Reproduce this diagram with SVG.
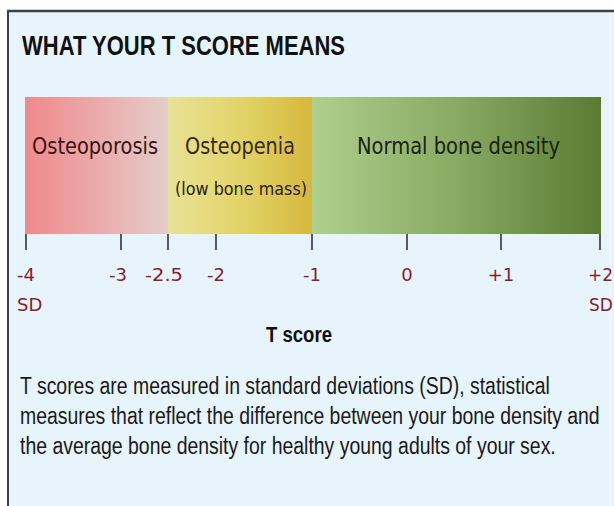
<svg xmlns="http://www.w3.org/2000/svg" width="614" height="506" viewBox="0 0 614 506">
  <defs>
    <linearGradient id="gRed" x1="0" y1="0" x2="1" y2="0">
      <stop offset="0" stop-color="#f0898b"/>
      <stop offset="0.5" stop-color="#ebaaab"/>
      <stop offset="1" stop-color="#e4cdca"/>
    </linearGradient>
    <linearGradient id="gYellow" x1="0" y1="0" x2="1" y2="0">
      <stop offset="0" stop-color="#e9e296"/>
      <stop offset="0.5" stop-color="#e2d46a"/>
      <stop offset="1" stop-color="#d6b83c"/>
    </linearGradient>
    <linearGradient id="gGreen" x1="0" y1="0" x2="1" y2="0">
      <stop offset="0" stop-color="#afcf8f"/>
      <stop offset="0.5" stop-color="#88aa62"/>
      <stop offset="1" stop-color="#5b7b33"/>
    </linearGradient>
    <style>
      .title { font-family: "Liberation Sans", Arial, sans-serif; font-weight: bold; font-size: 28px; fill: #111; }
      .band { font-family: "DejaVu Sans", Verdana, sans-serif; font-size: 23px; }
      .sub { font-family: "DejaVu Sans", Verdana, sans-serif; font-size: 18px; fill: #2e2208; }
      .num { font-family: "DejaVu Sans", Verdana, sans-serif; font-size: 18px; fill: #8a1c2c; }
      .axis { font-family: "Liberation Sans", Arial, sans-serif; font-weight: bold; font-size: 22px; fill: #111; }
      .para { font-family: "Liberation Sans", Arial, sans-serif; font-size: 24px; fill: #1a1a1a; }
      .tick { stroke: #333; stroke-width: 1.6; }
    </style>
  </defs>

  <rect x="0" y="0" width="614" height="506" fill="#ffffff"/>
  <g id="panel">
    <rect x="8" y="11" width="606" height="495" fill="#e8f4fb"/>
    <line x1="7" y1="11" x2="614" y2="11" stroke="#3b4146" stroke-width="2.5"/>
    <line x1="8" y1="10" x2="8" y2="506" stroke="#3b4146" stroke-width="2"/>
    <line x1="610" y1="13" x2="610" y2="506" stroke="#f3f9fd" stroke-width="1.5"/>
  </g>

  <g id="title">
    <text class="title" x="22" y="55" textLength="323" lengthAdjust="spacingAndGlyphs">WHAT YOUR T SCORE MEANS</text>
  </g>

  <g id="osteoporosis">
    <rect x="25" y="97" width="143" height="137" fill="url(#gRed)"/>
    <text class="band" x="32" y="154" textLength="126" lengthAdjust="spacingAndGlyphs" fill="#3a1414">Osteoporosis</text>
  </g>
  <g id="osteopenia">
    <rect x="168" y="97" width="144" height="137" fill="url(#gYellow)"/>
    <text class="band" x="185" y="154" textLength="110" lengthAdjust="spacingAndGlyphs" fill="#3a2a0c">Osteopenia</text>
    <text class="sub" x="175" y="195" textLength="132" lengthAdjust="spacingAndGlyphs">(low bone mass)</text>
  </g>
  <g id="normal">
    <rect x="312" y="97" width="289" height="137" fill="url(#gGreen)"/>
    <text class="band" x="357" y="154" textLength="203" lengthAdjust="spacingAndGlyphs" fill="#18230c">Normal bone density</text>
  </g>

  <g id="ticks">
    <line class="tick" x1="26" y1="234" x2="26" y2="250"/>
    <line class="tick" x1="121" y1="234" x2="121" y2="250"/>
    <line class="tick" x1="168" y1="234" x2="168" y2="250"/>
    <line class="tick" x1="216" y1="234" x2="216" y2="250"/>
    <line class="tick" x1="312" y1="234" x2="312" y2="250"/>
    <line class="tick" x1="407" y1="234" x2="407" y2="250"/>
    <line class="tick" x1="501" y1="234" x2="501" y2="250"/>
    <line class="tick" x1="600" y1="234" x2="600" y2="250"/>
  </g>

  <g id="tick-labels">
    <text class="num" x="17" y="281">-4</text>
    <text class="num" x="17" y="311">SD</text>
    <text class="num" x="118" y="281" text-anchor="middle">-3</text>
    <text class="num" x="164" y="281" text-anchor="middle" textLength="38" lengthAdjust="spacingAndGlyphs">-2.5</text>
    <text class="num" x="216" y="281" text-anchor="middle">-2</text>
    <text class="num" x="312" y="281" text-anchor="middle">-1</text>
    <text class="num" x="407" y="281" text-anchor="middle">0</text>
    <text class="num" x="501" y="281" text-anchor="middle">+1</text>
    <text class="num" x="588" y="281" style="font-size:17px">+2</text>
    <text class="num" x="589" y="311" style="font-size:17px">SD</text>
  </g>

  <g id="axis-title">
    <text class="axis" x="266" y="342" textLength="66" lengthAdjust="spacingAndGlyphs">T score</text>
  </g>

  <g id="description">
    <text class="para" transform="translate(20,394) scale(0.81,1)">T scores are measured in standard deviations (SD), statistical</text>
    <text class="para" transform="translate(20,424) scale(0.81,1)">measures that reflect the difference between your bone density and</text>
    <text class="para" transform="translate(20,454) scale(0.81,1)">the average bone density for healthy young adults of your sex.</text>
  </g>
</svg>
